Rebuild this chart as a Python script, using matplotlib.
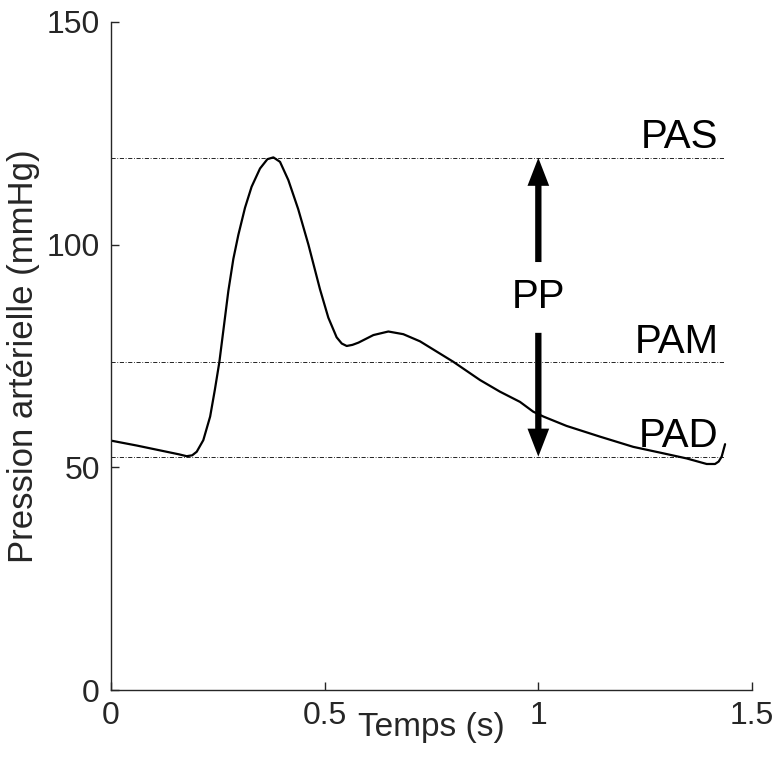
import matplotlib
matplotlib.use("Agg")
import matplotlib.pyplot as plt

plt.rcParams['font.family'] = ['Liberation Sans', 'DejaVu Sans']

# Waveform (time in s, pressure in mmHg)
temps = [0.000, 0.060, 0.120, 0.160, 0.177, 0.190, 0.2006, 0.216, 0.232, 0.243,
         0.2535, 0.263, 0.2746, 0.2863, 0.298, 0.3136, 0.329, 0.3487, 0.366,
         0.380, 0.3955, 0.415, 0.438, 0.462, 0.489, 0.5086, 0.528, 0.540,
         0.5516, 0.565, 0.579, 0.614, 0.649, 0.684, 0.723, 0.762, 0.801, 0.8636,
         0.910, 0.957, 0.988, 1.012, 1.066, 1.144, 1.222, 1.285, 1.347, 1.394,
         1.4135, 1.422, 1.429, 1.437]
pression = [56.0, 54.9, 53.7, 52.9, 52.5, 52.7, 53.5, 56.1, 61.4, 67.4,
            73.6, 80.8, 89.6, 96.8, 102.2, 108.3, 113.0, 117.1, 119.2,
            119.6, 118.6, 114.5, 108.0, 100.0, 90.0, 83.6, 79.2, 77.8,
            77.25, 77.5, 78.0, 79.7, 80.5, 79.9, 78.3, 76.0, 73.7, 69.6,
            67.0, 64.7, 62.5, 61.4, 59.3, 56.9, 54.6, 53.3, 52.0, 50.75,
            50.75, 51.3, 52.4, 55.2]

# Reference levels
niveaux_noms = ["PAS", "PAM", "PAD"]
niveaux_vals = [119.5, 73.6, 52.4]
x_fin_niveaux = 1.437

x_pp = 1.0
pp_haut_debut = 96.1
pp_bas_debut = 80.2
pp_texte_y = 88.3

xticks = [0, 0.5, 1, 1.5]
xticklabels = ["0", "0.5", "1", "1.5"]
yticks = [0, 50, 100, 150]

gris = '#262626'

fig = plt.figure(figsize=(7.73, 7.72), dpi=100)
ax = fig.add_axes([111/773, 82/772, 641/773, 668/772])

ax.plot(temps, pression, color='black', lw=1.6, solid_joinstyle='round',
        solid_capstyle='round')

for nom, v in zip(niveaux_noms, niveaux_vals):
    ax.plot([0, x_fin_niveaux], [v, v], color='black', lw=0.6, ls='-.',
            dashes=(5, 2, 1, 2))
    ax.text(1.422, v + 2.1, nom, ha='right', va='baseline', fontsize=29, color='black')

# PP arrows (vertical, so widths are in x-data units, lengths in y-data units)
px_x = 1 / 427.3
px_y = 1 / 4.453
for y0, y1 in [(pp_haut_debut, niveaux_vals[0]), (pp_bas_debut, niveaux_vals[2])]:
    ax.arrow(x_pp, y0, 0, y1 - y0, width=6.3 * px_x, head_width=21.7 * px_x,
             head_length=28 * px_y, length_includes_head=True,
             color='black', lw=0)
ax.text(x_pp, pp_texte_y, "PP", ha='center', va='center', fontsize=29, color='black')

ax.set_xlim(0, 1.5)
ax.set_ylim(0, 150)
ax.set_xticks(xticks)
ax.set_xticklabels(xticklabels)
ax.set_yticks(yticks)
for s in ['top', 'right']:
    ax.spines[s].set_visible(False)
for s in ['left', 'bottom']:
    ax.spines[s].set_color(gris)
    ax.spines[s].set_linewidth(1.0)
ax.tick_params(direction='in', length=6, width=1.0, colors=gris, labelsize=23, pad=8)
ax.set_xlabel("Temps (s)", fontsize=24, color=gris, labelpad=-14)
ax.set_ylabel("Pression artérielle (mmHg)", fontsize=25, color=gris, labelpad=5)

fig.savefig("out.png", dpi=100)
